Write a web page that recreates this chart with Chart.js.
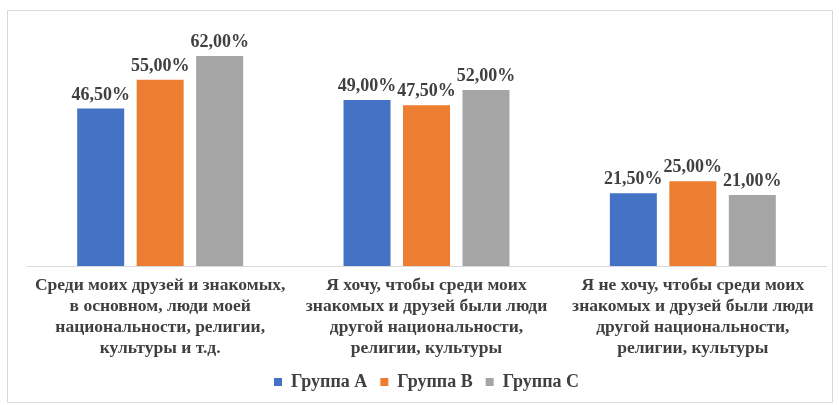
<!DOCTYPE html>
<html>
<head>
<meta charset="utf-8">
<script src="https://cdn.jsdelivr.net/npm/chart.js@4"></script>
<style>
  body { margin: 0; background: #fff; }
  #wrap { width: 839px; height: 405px; }
</style>
</head>
<body>
<div id="wrap"><canvas id="myChart" width="839" height="405"></canvas></div>
<script>
const categories = [
    ['Среди моих друзей и знакомых,', 'в основном, люди моей', 'национальности, религии,', 'культуры и т.д.'],
    ['Я хочу, чтобы среди моих', 'знакомых и друзей были люди', 'другой национальности,', 'религии, культуры'],
    ['Я не хочу, чтобы среди моих', 'знакомых и друзей были люди', 'другой национальности,', 'религии, культуры']
];
const groupA = [46.5, 49, 21.5];
const groupB = [55, 47.5, 25];
const groupC = [62, 52, 21];

const serif = '"Liberation Serif", "Times New Roman", serif';

const valueLabels = {
    id: 'valueLabels',
    afterDatasetsDraw(chart) {
        const c = chart.ctx;
        c.save();
        c.font = 'bold 18px ' + serif;
        c.fillStyle = '#404040';
        c.textAlign = 'center';
        c.textBaseline = 'alphabetic';
        chart.data.datasets.forEach((ds, i) => {
            chart.getDatasetMeta(i).data.forEach((bar, j) => {
                c.fillText(ds.data[j].toFixed(2).replace('.', ',') + '%', bar.x, bar.y - 9);
            });
        });
        c.restore();
    }
};

const frame = {
    id: 'frame',
    beforeDraw(chart) {
        const c = chart.ctx;
        c.save();
        c.fillStyle = '#fff';
        c.fillRect(0, 0, chart.width, chart.height);
        c.strokeStyle = '#d9d9d9';
        c.lineWidth = 1;
        c.strokeRect(7.5, 10.5, 825, 392);
        c.restore();
    }
};

const ctx = document.getElementById('myChart').getContext('2d');
const myChart = new Chart(ctx, {
    type: 'bar',
    data: {
        labels: categories,
        datasets: [
            { label: 'Группа A', data: groupA, backgroundColor: '#4472C4' },
            { label: 'Группа B', data: groupB, backgroundColor: '#ED7D31' },
            { label: 'Группа C', data: groupC, backgroundColor: '#A5A5A5' }
        ]
    },
    options: {
        responsive: false,
        animation: false,
        categoryPercentage: 0.67,
        barPercentage: 0.79,
        layout: { padding: { top: 29, left: 27, right: 13, bottom: 4 } },
        scales: {
            y: { display: false, min: 0, max: 70 },
            x: {
                grid: { display: false },
                border: { color: '#d9d9d9' },
                ticks: {
                    color: '#404040',
                    font: { family: serif, size: 17.5, weight: 'bold', lineHeight: 1.2 },
                    padding: 1,
                    maxRotation: 0
                }
            }
        },
        plugins: {
            tooltip: { enabled: false },
            legend: {
                position: 'bottom',
                labels: {
                    color: '#404040',
                    font: { family: serif, size: 18, weight: 'bold' },
                    boxWidth: 8,
                    boxHeight: 8,
                    padding: 13
                }
            }
        }
    },
    plugins: [frame, valueLabels]
});
</script>
</body>
</html>
